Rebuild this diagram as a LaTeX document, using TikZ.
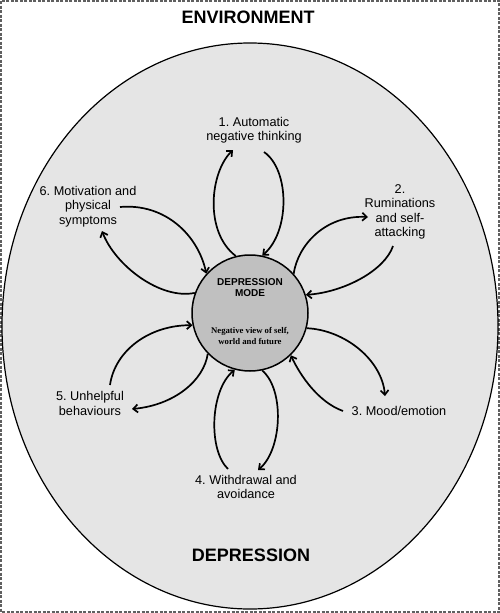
\documentclass[tikz,border=0pt]{standalone}
\usepackage{fontspec}
\setmainfont{Liberation Sans}
\newfontfamily\timesfont{Liberation Serif}
\usetikzlibrary{arrows.meta}
\definecolor{envfill}{HTML}{E5E5E5}
\definecolor{modefill}{HTML}{C0C0C0}
\definecolor{framecol}{HTML}{606060}
\frenchspacing
\begin{document}
\begin{tikzpicture}[x=1pt,y=-1pt,
  lab/.style={font=\fontsize{12.7}{14.5}\selectfont\frenchspacing, align=center, inner sep=0pt},
  big/.style={font=\fontsize{18}{20}\selectfont\bfseries, inner sep=0pt},
  conn/.style={line width=1.7pt, -{Straight Barb[length=4.5pt,width=8pt]}},
  frame/.style={draw=framecol, line width=1.5pt, dash pattern=on 3pt off 1.5pt},
]
\useasboundingbox (0,0) rectangle (500,613);
\draw[frame] (1,1) rectangle (499,612);
\draw[fill=envfill, line width=1.2pt] (250,326) ellipse [x radius=248pt, y radius=283pt];

\node[big] (env) at (248,17) {ENVIRONMENT};
\node[big] (dep) at (251,555) {DEPRESSION};

\node[circle, draw, line width=1.5pt, fill=modefill, minimum size=116pt, inner sep=0pt] (mode) at (250,313) {};
\node[font=\fontsize{10}{11.5}\selectfont\bfseries, align=center, inner sep=0pt] (modetxt) at (250,287.5) {DEPRESSION\\MODE};
\node[font=\timesfont\fontsize{8.7}{10.5}\selectfont\bfseries\frenchspacing, align=center, inner sep=0pt] (negtxt) at (250,336) {Negative view of self,\\world and future};

\node[lab] (l1) at (254,130) {1. Automatic\\negative thinking};
\node[lab] (l2) at (400,212) {2.\\Ruminations\\and self-\\attacking};
\node[lab] (l3) at (399,411) {3. Mood/emotion};
\node[lab] (l4) at (246,487) {4. Withdrawal and\\avoidance};
\node[lab] (l5) at (90,403.5) {5. Unhelpful\\behaviours};
\node[lab] (l6) at (88,206.5) {6. Motivation and\\physical\\symptoms};

\coordinate (a1) at (233,150);
\coordinate (b1) at (264,152);
\coordinate (a2) at (368,217);
\coordinate (b2) at (393,246);
\coordinate (a3) at (385,396);
\coordinate (b3) at (343,411);
\coordinate (a4) at (258,470);
\coordinate (b4) at (228,469);
\coordinate (a5) at (110,385);
\coordinate (b5) at (132,409);
\coordinate (a6) at (120,207);
\coordinate (b6) at (102,231);

\draw[conn] (mode.104) .. controls (204,232) and (210,172) .. (a1);
\draw[conn] (b1) .. controls (290,170) and (290,232) .. (mode.78);
\draw[conn] (mode.42) .. controls (298,245) and (325,215) .. (a2);
\draw[conn] (b2) .. controls (385,270) and (345,292) .. (mode.18);
\draw[conn] (mode.-15) .. controls (345,330) and (382,360) .. (a3);
\draw[conn] (b3) .. controls (318,402) and (300,375) .. (mode.-46);
\draw[conn] (mode.-78) .. controls (285,390) and (282,450) .. (a4);
\draw[conn] (b4) .. controls (208,450) and (210,390) .. (mode.-105);
\draw[conn] (a5) .. controls (115,350) and (150,325) .. (mode.192);
\draw[conn] (mode.224) .. controls (204,380) and (175,405) .. (b5);
\draw[conn] (a6) .. controls (165,203) and (198,235) .. (mode.138);
\draw[conn] (mode.160) .. controls (160,300) and (115,265) .. (b6);
\end{tikzpicture}
\end{document}
